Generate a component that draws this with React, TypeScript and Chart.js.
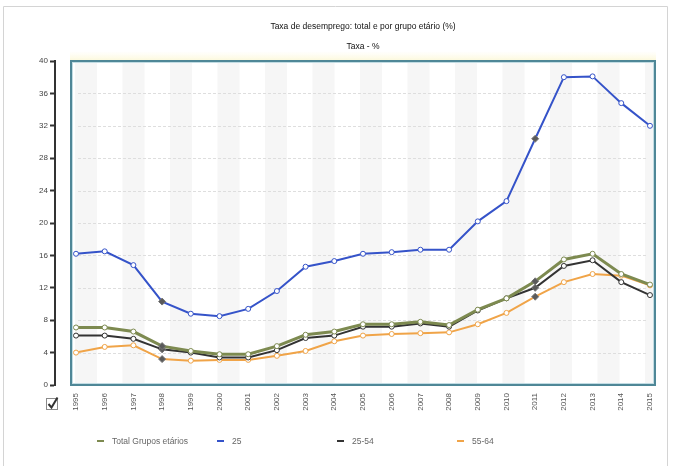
import React, { useEffect, useRef } from "react";
import { Chart, registerables } from "chart.js";

Chart.register(...registerables);

const years = ["1995","1996","1997","1998","1999","2000","2001","2002","2003","2004","2005","2006","2007","2008","2009","2010","2011","2012","2013","2014","2015"];
const totalGrupos = [7.1,7.1,6.6,4.8,4.2,3.8,3.8,4.8,6.2,6.6,7.5,7.5,7.8,7.4,9.3,10.7,12.8,15.5,16.2,13.7,12.4];
const jovens25 = [16.2,16.5,14.8,10.3,8.8,8.5,9.4,11.6,14.6,15.3,16.2,16.4,16.7,16.7,20.2,22.7,30.4,38.0,38.1,34.8,32.0];
const idade25a54 = [6.1,6.1,5.7,4.4,4.0,3.4,3.4,4.3,5.8,6.1,7.2,7.2,7.6,7.2,9.2,10.7,12.0,14.7,15.4,12.7,11.1];
const idade55a64 = [4.0,4.7,4.9,3.2,3.0,3.1,3.1,3.6,4.2,5.4,6.1,6.3,6.4,6.5,7.5,8.9,10.9,12.7,13.7,13.5,12.3];
const yTicks = [0,4,8,12,16,20,24,28,32,36,40];
const highlightIdx = [3, 16];

const seriesNames = ["Total Grupos etários", "25", "25-54", "55-64"];
const seriesColors = ["#7d8a50", "#3553c9", "#333333", "#f0a448"];

const chartTitle = "Taxa de desemprego: total e por grupo etário (%)";
const chartSubtitle = "Taxa - %";

const FONT = "'Liberation Sans', Arial, sans-serif";

function pts(vals: number[]) {
  return vals.map((v, i) => ({ x: i, y: v }));
}

function pointProps(color: string) {
  return {
    pointStyle: years.map((_, i) => (highlightIdx.includes(i) ? "rectRot" : "circle")),
    pointRadius: years.map((_, i) => (highlightIdx.includes(i) ? 3.5 : 2.5)),
    pointBackgroundColor: years.map((_, i) => (highlightIdx.includes(i) ? "#5a5a5a" : "#fff")),
    pointBorderColor: years.map((_, i) => (highlightIdx.includes(i) ? "#777" : color)),
    pointBorderWidth: 1,
  };
}

const decoPlugin = {
  id: "deco",
  beforeDraw(chart: any) {
    const { ctx, chartArea, scales } = chart;
    const y = scales.y;
    const boxL = chartArea.left + 15;
    const boxR = chartArea.right;
    const boxT = chartArea.top - 1;
    const boxB = chartArea.bottom + 1;
    ctx.save();
    // outer frame
    ctx.strokeStyle = "#d4d4d4";
    ctx.lineWidth = 1;
    ctx.beginPath();
    ctx.moveTo(3.5, 470);
    ctx.lineTo(3.5, 6.5);
    ctx.lineTo(667.5, 6.5);
    ctx.lineTo(667.5, 470);
    ctx.stroke();
    // pale band above plot
    const g = ctx.createLinearGradient(0, boxT - 9, 0, boxT);
    g.addColorStop(0, "rgba(255,252,230,0)");
    g.addColorStop(1, "rgba(252,249,222,1)");
    ctx.fillStyle = g;
    ctx.fillRect(boxL, boxT - 9, boxR - boxL, 9);
    // box background
    ctx.fillStyle = "#ffffff";
    ctx.fillRect(boxL, boxT, boxR - boxL, boxB - boxT);
    // stripes
    ctx.fillStyle = "#f6f6f6";
    for (let x = boxL + 5; x < boxR - 4; x += 47.5) {
      const w = Math.min(22, boxR - 3 - x);
      ctx.fillRect(x, boxT + 2, w, boxB - boxT - 4);
    }
    // dashed grid
    ctx.strokeStyle = "#dedede";
    ctx.setLineDash([3, 2]);
    ctx.lineWidth = 1;
    yTicks.forEach((t) => {
      if (t === 0 || t === 40) return;
      const py = Math.round(y.getPixelForValue(t)) + 0.5;
      ctx.beginPath();
      ctx.moveTo(boxL + 8, py);
      ctx.lineTo(boxR - 8, py);
      ctx.stroke();
    });
    ctx.setLineDash([]);
    // box border
    ctx.strokeStyle = "#c2dce3";
    ctx.lineWidth = 1;
    ctx.strokeRect(boxL + 2.5, boxT + 2.5, boxR - boxL - 5, boxB - boxT - 5);
    ctx.strokeStyle = "#4f8797";
    ctx.lineWidth = 2;
    ctx.strokeRect(boxL + 1, boxT + 1, boxR - boxL - 2, boxB - boxT - 2);
    // checkbox
    ctx.strokeStyle = "#8a8a8a";
    ctx.lineWidth = 1;
    ctx.strokeRect(46.5, 398.5, 11, 11);
    ctx.strokeStyle = "#333";
    ctx.lineWidth = 2;
    ctx.beginPath();
    ctx.moveTo(48.5, 404);
    ctx.lineTo(51.5, 407.5);
    ctx.lineTo(57.5, 397.5);
    ctx.stroke();
    ctx.restore();
  },
};

export default function App() {
  const ref = useRef<HTMLCanvasElement | null>(null);

  useEffect(() => {
    document.body.style.margin = "0";
    if (!ref.current) return;
    const chart = new Chart(ref.current, {
      type: "line",
      data: {
        datasets: [
          { label: seriesNames[0], data: pts(totalGrupos), borderColor: seriesColors[0], borderWidth: 3, ...pointProps(seriesColors[0]) },
          { label: seriesNames[1], data: pts(jovens25), borderColor: seriesColors[1], borderWidth: 2, ...pointProps(seriesColors[1]) },
          { label: seriesNames[2], data: pts(idade25a54), borderColor: seriesColors[2], borderWidth: 2, ...pointProps(seriesColors[2]) },
          { label: seriesNames[3], data: pts(idade55a64), borderColor: seriesColors[3], borderWidth: 2, ...pointProps(seriesColors[3]) },
        ] as any,
      },
      options: {
        animation: false,
        responsive: false,
        maintainAspectRatio: false,
        layout: { padding: { top: 61, right: 17, bottom: 0, left: 0 } },
        plugins: { legend: { display: false }, title: { display: false }, tooltip: { enabled: false } },
        elements: { line: { tension: 0 } },
        scales: {
          x: {
            type: "linear",
            min: -0.732,
            max: 20.21,
            afterFit: (s: any) => { s.height = 81; },
            grid: { display: false, drawTicks: false },
            border: { display: false },
            ticks: {
              stepSize: 1,
              autoSkip: false,
              includeBounds: false,
              minRotation: 90,
              maxRotation: 90,
              padding: 8,
              color: "#555",
              font: { family: FONT, size: 8 },
              callback: (v: any) => (Number.isInteger(v) && years[v] ? years[v] : ""),
            },
          },
          y: {
            min: 0,
            max: 40,
            afterFit: (s: any) => { s.width = 55; },
            afterBuildTicks: (s: any) => { s.ticks = yTicks.map((v) => ({ value: v })); },
            grid: { drawOnChartArea: false, drawTicks: true, tickLength: 5, color: "#333", tickColor: "#333", tickWidth: 2 },
            border: { display: true, color: "#333", width: 2 },
            ticks: { padding: 2, color: "#444", font: { family: FONT, size: 8 } },
          },
        },
      },
      plugins: [decoPlugin],
    } as any);
    return () => chart.destroy();
  }, []);

  return (
    <div style={{ position: "relative", width: 673, height: 466, background: "#fff", fontFamily: FONT }}>
      <canvas ref={ref} width={673} height={466} style={{ position: "absolute", left: 0, top: 0, width: 673, height: 466 }} />
      <div style={{ position: "absolute", left: 163, width: 400, top: 21, textAlign: "center", fontSize: 8.5, color: "#111", lineHeight: "11px" }}>{chartTitle}</div>
      <div style={{ position: "absolute", left: 163, width: 400, top: 41, textAlign: "center", fontSize: 8.5, color: "#111", lineHeight: "11px" }}>{chartSubtitle}</div>
      <div style={{ position: "absolute", left: 97, top: 435, height: 12, display: "flex" }}>
        {seriesNames.map((n, i) => (
          <div key={n} style={{ width: 120, display: "flex", alignItems: "center", fontSize: 8.5, color: "#666" }}>
            <span style={{ display: "inline-block", width: 7, height: 2, background: seriesColors[i], marginRight: 8 }} />
            <span>{n}</span>
          </div>
        ))}
      </div>
    </div>
  );
}
